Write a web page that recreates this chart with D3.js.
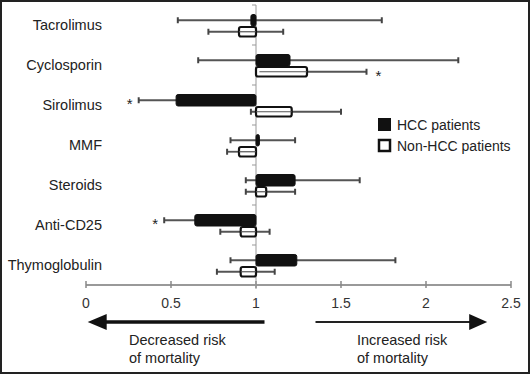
<!DOCTYPE html>
<html>
<head>
<meta charset="utf-8">
<script src="https://cdn.jsdelivr.net/npm/d3@7"></script>
<style>
  body { margin: 0; background: #fff; }
  text { font-family: "Liberation Sans", Arial, sans-serif; }
</style>
</head>
<body>
<div id="chart"></div>
<script>
var drugs = ["Tacrolimus","Cyclosporin","Sirolimus","MMF","Steroids","Anti-CD25","Thymoglobulin"];
// hazard ratios with 95% CI
var hccValue = [0.97, 1.20, 0.53, 1.02, 1.23, 0.64, 1.24];
var hccLow   = [0.54, 0.66, 0.31, 0.85, 0.94, 0.46, 0.85];
var hccHigh  = [1.74, 2.19, 0.98, 1.23, 1.61, 0.95, 1.82];
var nonValue = [0.90, 1.30, 1.21, 0.90, 1.06, 0.91, 0.91];
var nonLow   = [0.72, 1.02, 0.97, 0.83, 0.94, 0.79, 0.77];
var nonHigh  = [1.16, 1.65, 1.50, 1.00, 1.23, 1.08, 1.11];
var hccStar = [false, false, true, false, false, true, false];
var nonStar = [false, true, false, false, false, false, false];
var ticks = [0, 0.5, 1, 1.5, 2, 2.5];

var width = 530, height = 374;
var barH = 11.5;

var svg = d3.select("#chart").append("svg")
  .attr("width", width)
  .attr("height", height);

// frame
svg.append("rect")
  .attr("x", 1).attr("y", 1)
  .attr("width", width - 2).attr("height", height - 2)
  .attr("fill", "none").attr("stroke", "#222").attr("stroke-width", 2);

var x = d3.scaleLinear().domain([0, 2.5]).range([86, 511]);
var y = d3.scaleBand().domain(drugs).range([5, 285]);

var rows = drugs.map(function(d, i) {
  return {name: d, i: i};
});

// x axis
var axisY = 285;
svg.append("line")
  .attr("x1", x(0)).attr("x2", x(2.5))
  .attr("y1", axisY).attr("y2", axisY)
  .attr("stroke", "#999").attr("stroke-width", 2);
svg.selectAll(".xtick").data(ticks).enter().append("line")
  .attr("class", "xtick")
  .attr("x1", function(d) { return x(d); }).attr("x2", function(d) { return x(d); })
  .attr("y1", axisY - 4).attr("y2", axisY + 3)
  .attr("stroke", "#888").attr("stroke-width", 1.5);
svg.selectAll(".xlab").data(ticks).enter().append("text")
  .attr("class", "xlab")
  .attr("x", function(d) { return x(d); })
  .attr("y", 308)
  .attr("text-anchor", "middle")
  .attr("font-size", 14)
  .attr("fill", "#333")
  .text(function(d) { return d; });

// vertical reference line at 1
svg.append("line")
  .attr("x1", x(1)).attr("x2", x(1))
  .attr("y1", 5).attr("y2", axisY + 4)
  .attr("stroke", "#999").attr("stroke-width", 1);
svg.selectAll(".ytick").data(drugs.concat(["end"])).enter().append("line")
  .attr("class", "ytick")
  .attr("x1", x(1) - 4).attr("x2", x(1))
  .attr("y1", function(d, i) { return 5 + i * y.bandwidth(); })
  .attr("y2", function(d, i) { return 5 + i * y.bandwidth(); })
  .attr("stroke", "#999").attr("stroke-width", 1);

// category labels
svg.selectAll(".cat").data(rows).enter().append("text")
  .attr("class", "cat")
  .attr("x", 102)
  .attr("y", function(d) { return y(d.name) + y.bandwidth() / 2 + 5; })
  .attr("text-anchor", "end")
  .attr("font-size", 14.5)
  .attr("fill", "#222")
  .text(function(d) { return d.name; });

function midY(d, k) {
  var c = y(d.name) + y.bandwidth() / 2 + 1;
  return k === 0 ? c - barH / 2 : c + barH / 2;
}

function drawWhiskers(k, low, high) {
  var g = svg.append("g");
  g.selectAll("line.w").data(rows).enter().append("line")
    .attr("x1", function(d) { return x(low[d.i]); })
    .attr("x2", function(d) { return x(high[d.i]); })
    .attr("y1", function(d) { return midY(d, k); })
    .attr("y2", function(d) { return midY(d, k); })
    .attr("stroke", "#555").attr("stroke-width", 1.8);
  [low, high].forEach(function(arr) {
    g.selectAll(null).data(rows).enter().append("line")
      .attr("x1", function(d) { return x(arr[d.i]); })
      .attr("x2", function(d) { return x(arr[d.i]); })
      .attr("y1", function(d) { return midY(d, k) - 3; })
      .attr("y2", function(d) { return midY(d, k) + 3; })
      .attr("stroke", "#444").attr("stroke-width", 2);
  });
}

drawWhiskers(0, hccLow, hccHigh);
drawWhiskers(1, nonLow, nonHigh);

// HCC bars
svg.selectAll(".hcc").data(rows).enter().append("rect")
  .attr("class", "hcc")
  .attr("x", function(d) { return Math.min(x(1), x(hccValue[d.i])); })
  .attr("width", function(d) { return Math.max(3, Math.abs(x(hccValue[d.i]) - x(1))); })
  .attr("y", function(d) { return midY(d, 0) - barH / 2; })
  .attr("height", barH)
  .attr("rx", 2)
  .attr("fill", "#111").attr("stroke", "#111").attr("stroke-width", 1);

// Non-HCC bars
svg.selectAll(".non").data(rows).enter().append("rect")
  .attr("class", "non")
  .attr("x", function(d) { return Math.min(x(1), x(nonValue[d.i])); })
  .attr("width", function(d) { return Math.abs(x(nonValue[d.i]) - x(1)); })
  .attr("y", function(d) { return midY(d, 1) - barH / 2 + 1; })
  .attr("height", barH - 2)
  .attr("rx", 2)
  .attr("fill", "#fff").attr("stroke", "#111").attr("stroke-width", 2.2);
svg.selectAll(".nonmid").data(rows).enter().append("line")
  .attr("class", "nonmid")
  .attr("x1", function(d) { return x(Math.max(nonLow[d.i], Math.min(1, nonValue[d.i]))); })
  .attr("x2", function(d) { return x(Math.min(nonHigh[d.i], Math.max(1, nonValue[d.i]))); })
  .attr("y1", function(d) { return midY(d, 1); })
  .attr("y2", function(d) { return midY(d, 1); })
  .attr("stroke", "#555").attr("stroke-width", 1.2);

// significance stars
svg.selectAll(".star1").data(rows.filter(function(d) { return hccStar[d.i]; })).enter().append("text")
  .attr("x", function(d) { return x(hccLow[d.i]) - 9; })
  .attr("y", function(d) { return midY(d, 0) + 9; })
  .attr("text-anchor", "middle")
  .attr("font-size", 15).attr("fill", "#222")
  .text("*");
svg.selectAll(".star2").data(rows.filter(function(d) { return nonStar[d.i]; })).enter().append("text")
  .attr("x", function(d) { return x(nonHigh[d.i]) + 12; })
  .attr("y", function(d) { return midY(d, 1) + 9; })
  .attr("text-anchor", "middle")
  .attr("font-size", 15).attr("fill", "#222")
  .text("*");

// legend
var legend = svg.append("g").attr("transform", "translate(378,118)");
legend.append("rect").attr("x", 0).attr("y", 0).attr("width", 13).attr("height", 13).attr("fill", "#111");
legend.append("text").attr("x", 19).attr("y", 11.5).attr("font-size", 14).attr("fill", "#222").text("HCC patients");
legend.append("rect").attr("x", 1).attr("y", 22).attr("width", 11).attr("height", 11)
  .attr("fill", "#fff").attr("stroke", "#111").attr("stroke-width", 2.5);
legend.append("text").attr("x", 19).attr("y", 32.5).attr("font-size", 14).attr("fill", "#222").text("Non-HCC patients");

// risk arrows
var arrowY = 322;
svg.append("line")
  .attr("x1", x(1.05)).attr("x2", x(0.1))
  .attr("y1", arrowY).attr("y2", arrowY)
  .attr("stroke", "#111").attr("stroke-width", 3.5);
svg.append("path")
  .attr("d", "M" + x(0.01) + "," + arrowY + "L" + (x(0.01) + 19) + "," + (arrowY - 8) + "L" + (x(0.01) + 19) + "," + (arrowY + 8) + "Z")
  .attr("fill", "#111");
svg.append("line")
  .attr("x1", x(1.35)).attr("x2", x(2.3))
  .attr("y1", arrowY).attr("y2", arrowY)
  .attr("stroke", "#222").attr("stroke-width", 2);
svg.append("path")
  .attr("d", "M" + x(2.36) + "," + arrowY + "L" + (x(2.36) - 18) + "," + (arrowY - 8) + "L" + (x(2.36) - 18) + "," + (arrowY + 8) + "Z")
  .attr("fill", "#111");

var notes = [
  {x: 129, lines: ["Decreased risk", "of mortality"]},
  {x: 357, lines: ["Increased risk", "of mortality"]}
];
notes.forEach(function(n) {
  n.lines.forEach(function(t, j) {
    svg.append("text")
      .attr("x", n.x).attr("y", 345 + j * 18)
      .attr("font-size", 14.5).attr("fill", "#222")
      .text(t);
  });
});
</script>
</body>
</html>
